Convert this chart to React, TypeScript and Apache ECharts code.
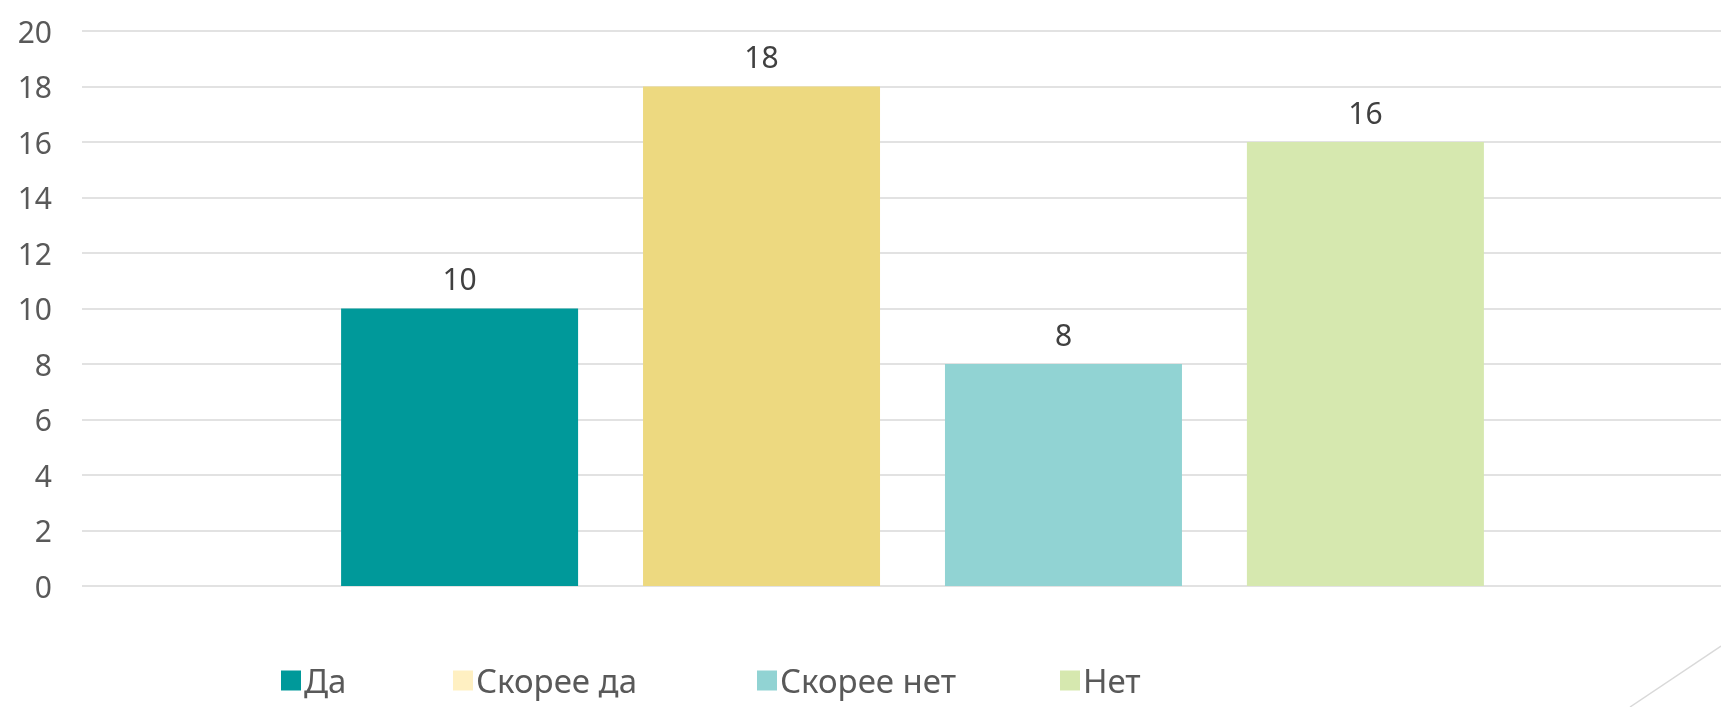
import React, { useEffect, useRef } from "react";
import * as echarts from "echarts";

const categories = [""];
const seriesNames = ["Да", "Скорее да", "Скорее нет", "Нет"];
const seriesValues = [10, 18, 8, 16];
const barColors = ["#00999A", "#EDD980", "#91D3D3", "#D6E8AF"];
const legendColors = ["#00999A", "#FFF0C2", "#91D3D3", "#D6E8AF"];
const legendLefts = [281, 453, 757, 1060];

export default function App() {
  const ref = useRef<HTMLDivElement>(null);
  useEffect(() => {
    if (!ref.current) return;
    const chart = echarts.init(ref.current, null, { renderer: "svg" });
    const font = "'Noto Sans', 'Open Sans', sans-serif";
    chart.setOption({
      animation: false,
      textStyle: { fontFamily: font },
      grid: {
        left: 82,
        width: 1661,
        top: 31,
        bottom: 121,
        containLabel: false,
        outerBoundsMode: "none",
      },
      xAxis: {
        type: "category",
        data: categories,
        axisLine: { show: false },
        axisTick: { show: false },
        axisLabel: { show: false },
      },
      yAxis: {
        type: "value",
        min: 0,
        max: 20,
        interval: 2,
        axisLine: { show: false },
        axisTick: { show: false },
        axisLabel: { color: "#595959", fontSize: 30, margin: 30, fontFamily: font },
        splitLine: { lineStyle: { color: "#D9D9D9", width: 1.5 } },
      },
      legend: seriesNames.map((n, i) => ({
        data: [{ name: n, itemStyle: { color: legendColors[i] } }],
        left: legendLefts[i],
        top: 664,
        padding: 0,
        itemWidth: 20,
        itemHeight: 20,
        itemGap: 0,
        icon: "rect",
        textStyle: {
          color: "#595959",
          fontSize: 33,
          lineHeight: 32,
          fontFamily: font,
          padding: [0, 0, 0, -2],
        },
        selectedMode: false,
      })),
      series: seriesNames.map((n, i) => ({
        name: n,
        type: "bar",
        data: [seriesValues[i]],
        barWidth: 237,
        barGap: "27.4%",
        itemStyle: { color: barColors[i] },
        label: {
          show: true,
          position: "top",
          distance: 15,
          color: "#404040",
          fontSize: 30,
          fontFamily: font,
        },
      })),
      graphic: [
        {
          type: "line",
          shape: { x1: 1721, y1: 646, x2: 1630, y2: 707 },
          style: { stroke: "#D9D9D9", lineWidth: 1.5 },
          silent: true,
        },
      ],
    });
    return () => chart.dispose();
  }, []);
  return (
    <div
      ref={ref}
      style={{ position: "fixed", left: 0, top: 0, width: 1721, height: 707 }}
    />
  );
}
